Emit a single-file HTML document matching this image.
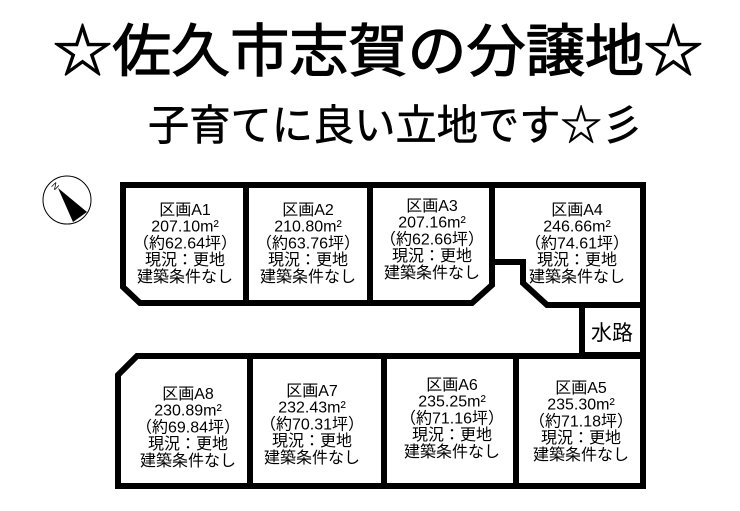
<!DOCTYPE html>
<html><head><meta charset="utf-8"><style>
html,body{margin:0;padding:0;background:#fff;}
svg{display:block;font-family:"Liberation Sans","Noto Sans CJK JP",sans-serif;}
</style></head><body>
<svg width="740" height="511" viewBox="0 0 740 511" xmlns="http://www.w3.org/2000/svg">
<rect width="740" height="511" fill="#fff"/>
<text x="378" y="71" font-size="57" text-anchor="middle" textLength="650" lengthAdjust="spacingAndGlyphs" fill="#000" stroke="#000" stroke-width="1.2">☆佐久市志賀の分譲地☆</text>
<text x="148" y="140" font-size="42" textLength="495" lengthAdjust="spacingAndGlyphs" fill="#000" stroke="#000" stroke-width="0.6">子育てに良い立地です☆彡</text>
<!-- compass -->
<circle cx="67" cy="200" r="24" fill="#fff" stroke="#000" stroke-width="1"/>
<polygon points="58,188 87,212 73,222" fill="#000"/>
<text x="52" y="189" font-size="9" transform="rotate(45 55 186)" fill="#000">N</text>
<g fill="none" stroke="#000" stroke-width="6" stroke-linejoin="miter">
<polygon points="123,185 246,185 246,303 140,303 123,287"/>
<polygon points="246,185 370,185 370,303 246,303"/>
<polygon points="370,185 492,185 492,285 472,303 370,303"/>
<polygon points="492,185 643,185 643,305 547,305 523,283 523,262 492,262"/>
<polygon points="582,305 643,305 643,355 582,355"/>
<polygon points="137,356 643,356 643,486 118,486 118,375"/>
<line x1="250" y1="356" x2="250" y2="486"/>
<line x1="384" y1="356" x2="384" y2="486"/>
<line x1="516" y1="356" x2="516" y2="486"/>
</g>
<text x="612" y="340" font-size="21" text-anchor="middle" fill="#000">水路</text>
<g font-size="16" text-anchor="middle" fill="#000">
<text x="185" y="215"><tspan x="185">区画A1</tspan><tspan x="185" dy="16.7">207.10m²</tspan><tspan x="185" dy="16.7">（約62.64坪）</tspan><tspan x="185" dy="16.7">現況：更地</tspan><tspan x="185" dy="16.7">建築条件なし</tspan></text>
<text x="308" y="215"><tspan x="308">区画A2</tspan><tspan x="308" dy="16.7">210.80m²</tspan><tspan x="308" dy="16.7">（約63.76坪）</tspan><tspan x="308" dy="16.7">現況：更地</tspan><tspan x="308" dy="16.7">建築条件なし</tspan></text>
<text x="432" y="211"><tspan x="432">区画A3</tspan><tspan x="432" dy="16.7">207.16m²</tspan><tspan x="432" dy="16.7">（約62.66坪）</tspan><tspan x="432" dy="16.7">現況：更地</tspan><tspan x="432" dy="16.7">建築条件なし</tspan></text>
<text x="577" y="215"><tspan x="577">区画A4</tspan><tspan x="577" dy="16.7">246.66m²</tspan><tspan x="577" dy="16.7">（約74.61坪）</tspan><tspan x="577" dy="16.7">現況：更地</tspan><tspan x="577" dy="16.7">建築条件なし</tspan></text>
<text x="188" y="399"><tspan x="188">区画A8</tspan><tspan x="188" dy="16.7">230.89m²</tspan><tspan x="188" dy="16.7">（約69.84坪）</tspan><tspan x="188" dy="16.7">現況：更地</tspan><tspan x="188" dy="16.7">建築条件なし</tspan></text>
<text x="312" y="396"><tspan x="312">区画A7</tspan><tspan x="312" dy="16.7">232.43m²</tspan><tspan x="312" dy="16.7">（約70.31坪）</tspan><tspan x="312" dy="16.7">現況：更地</tspan><tspan x="312" dy="16.7">建築条件なし</tspan></text>
<text x="452" y="390"><tspan x="452">区画A6</tspan><tspan x="452" dy="16.7">235.25m²</tspan><tspan x="452" dy="16.7">（約71.16坪）</tspan><tspan x="452" dy="16.7">現況：更地</tspan><tspan x="452" dy="16.7">建築条件なし</tspan></text>
<text x="581" y="393"><tspan x="581">区画A5</tspan><tspan x="581" dy="16.7">235.30m²</tspan><tspan x="581" dy="16.7">（約71.18坪）</tspan><tspan x="581" dy="16.7">現況：更地</tspan><tspan x="581" dy="16.7">建築条件なし</tspan></text>
</g>
</svg>
</body></html>
